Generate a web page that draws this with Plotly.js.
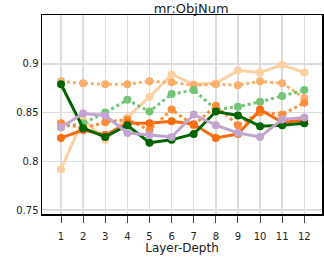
<!DOCTYPE html>
<html><head><meta charset="utf-8">
<script src="https://cdn.plot.ly/plotly-3.0.1.min.js"></script>
<style>html,body{margin:0;padding:0;background:#fff}</style>
</head><body>
<div id="chart" style="width:324px;height:259px"></div>
<script>
const layers = [1,2,3,4,5,6,7,8,9,10,11,12];
const peachSolid   = [0.792,0.843,0.822,0.845,0.866,0.889,0.879,0.880,0.893,0.891,0.899,0.891];
const lightOrangeDot = [0.882,0.880,0.879,0.879,0.882,0.881,0.878,0.879,0.878,0.882,0.880,0.865];
const greenDot     = [0.835,0.839,0.850,0.863,0.851,0.869,0.873,0.853,0.856,0.861,0.867,0.873];
const orangeDot    = [0.839,0.834,0.840,0.843,0.832,0.853,0.837,0.857,0.837,0.850,0.848,0.860];
const orangeSolid  = [0.824,0.832,0.827,0.839,0.839,0.841,0.838,0.824,0.828,0.853,0.840,0.842];
const darkGreen    = [0.879,0.834,0.825,0.837,0.819,0.822,0.828,0.851,0.847,0.836,0.837,0.839];
const lavender     = [0.835,0.849,0.847,0.829,0.827,0.825,0.848,0.837,0.829,0.825,0.843,0.845];

function tr(y, color, dash){
  return {x: layers, y: y, type:'scatter', mode:'lines+markers',
    line:{color:color, width:3, dash:dash||'solid'},
    marker:{color:color, size:8}, showlegend:false};
}
const data = [
  tr(peachSolid,'#fdd0a2'),
  tr(lightOrangeDot,'#fdae6b','dot'),
  tr(greenDot,'#74c476','dot'),
  tr(orangeDot,'#fd8d3c','dot'),
  tr(orangeSolid,'#f96b0f'),
  tr(darkGreen,'#006400'),
  tr(lavender,'#c2a5cf')
];
const layout = {
  width:324, height:259,
  margin:{l:42, r:2, t:15, b:45},
  paper_bgcolor:'#fff', plot_bgcolor:'#fff',
  font:{family:'DejaVu Sans, Verdana, sans-serif', size:10, color:'#222'},
  title:{text:'mr:ObjNum', x:0.59, xanchor:'center', y:0.985, yanchor:'top', font:{size:13, color:'#222'}},
  xaxis:{range:[0.14,12.8], tickvals:layers, ticks:'outside', ticklen:7, tickcolor:'#444',
    ticklabelstandoff:5, automargin:true,
    showgrid:true, gridcolor:'#dcdcdc', gridwidth:1.5, zeroline:false,
    showline:true, linecolor:'#000', linewidth:1.5, mirror:true,
    title:{text:'Layer-Depth', font:{size:12}, standoff:2}},
  yaxis:{range:[0.746,0.95], tickvals:[0.75,0.8,0.85,0.9], ticktext:['0.75','0.8','0.85','0.9'],
    ticks:'', showgrid:true, gridcolor:'#dcdcdc', gridwidth:1.5, zeroline:false,
    showline:true, linecolor:'#000', linewidth:1.5, mirror:true}
};
Plotly.newPlot('chart', data, layout, {displayModeBar:false, staticPlot:true});
</script>
</body></html>
